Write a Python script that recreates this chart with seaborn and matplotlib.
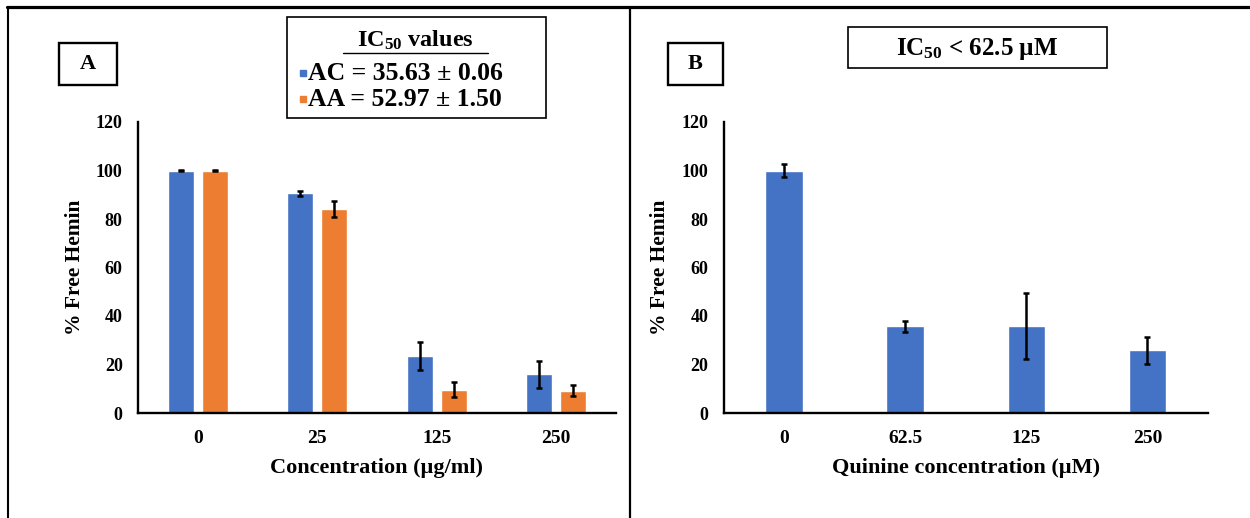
import numpy as np
import pandas as pd
import seaborn as sns
import matplotlib.pyplot as plt
from matplotlib.patches import Rectangle
from matplotlib.lines import Line2D

# ---- data ----
conc_a = ["0", "25", "125", "250"]
ac_vals = [100.0, 90.6, 23.4, 15.9]
ac_err = [0.3, 1.1, 5.8, 5.4]
aa_vals = [100.0, 84.1, 9.6, 9.2]
aa_err = [0.3, 3.2, 3.1, 2.2]
series_a = ["AC", "AA"]

conc_b = ["0", "62.5", "125", "250"]
quinine_vals = [100.0, 35.7, 35.8, 25.8]
quinine_err = [2.6, 2.2, 13.7, 5.7]

yticks = [0, 20, 40, 60, 80, 100, 120]
xlabel_a = "Concentration (µg/ml)"
xlabel_b = "Quinine concentration (µM)"
ylabel = "% Free Hemin"
legend_title = "IC$_{50}$ values"
legend_lines = ["AC = 35.63 ± 0.06", "AA = 52.97 ± 1.50"]
box_b_text = "IC$_{50}$ < 62.5 µM"

BLUE = "#4472C4"
ORANGE = "#ED7D31"

sns.set_theme(style="white")
plt.rcParams["font.family"] = ["Liberation Serif", "DejaVu Serif"]
plt.rcParams["font.weight"] = "bold"
plt.rcParams["text.color"] = "black"
plt.rcParams["axes.labelcolor"] = "black"
plt.rcParams["xtick.color"] = "black"
plt.rcParams["ytick.color"] = "black"
plt.rcParams["mathtext.fontset"] = "custom"
plt.rcParams["mathtext.rm"] = "Liberation Serif:bold"
plt.rcParams["mathtext.it"] = "Liberation Serif:bold"
plt.rcParams["mathtext.bf"] = "Liberation Serif:bold"

W, H = 1250, 518
fig = plt.figure(figsize=(12.5, 5.18), dpi=100)

def fx(px):
    return px / W

def fy(py):
    return (H - py) / H

axA = fig.add_axes([fx(138), fy(413), fx(616) - fx(138), fy(122) - fy(413)])
axB = fig.add_axes([fx(723.5), fy(413), fx(1208) - fx(723.5), fy(122) - fy(413)])

df_a = pd.DataFrame({
    "conc": conc_a * 2,
    "value": ac_vals + aa_vals,
    "series": [series_a[0]] * len(conc_a) + [series_a[1]] * len(conc_a),
})
sns.barplot(data=df_a, x="conc", y="value", hue="series", order=conc_a,
            hue_order=series_a, palette=[BLUE, ORANGE], width=0.568, gap=0.236,
            errorbar=None, legend=False, saturation=1, ax=axA)
for cont, errs in zip(axA.containers, [ac_err, aa_err]):
    xs = [p.get_x() + p.get_width() / 2 for p in cont.patches]
    hs = [p.get_height() for p in cont.patches]
    axA.errorbar(xs, hs, yerr=errs, fmt="none", ecolor="black",
                 elinewidth=1.8, capsize=2.5, capthick=1.8, zorder=5)

df_b = pd.DataFrame({"conc": conc_b, "value": quinine_vals})
sns.barplot(data=df_b, x="conc", y="value", order=conc_b, color=BLUE,
            width=0.31, errorbar=None, saturation=1, ax=axB)
cont = axB.containers[0]
xs = [p.get_x() + p.get_width() / 2 for p in cont.patches]
hs = [p.get_height() for p in cont.patches]
axB.errorbar(xs, hs, yerr=quinine_err, fmt="none", ecolor="black",
             elinewidth=1.8, capsize=2.5, capthick=1.8, zorder=5)

for ax, xl in [(axA, xlabel_a), (axB, xlabel_b)]:
    ax.set_ylim(0, 120)
    ax.set_xlim(-0.5, 3.5)
    ax.set_yticks(yticks)
    ax.set_yticklabels([str(t) for t in yticks], fontsize=13, fontweight="bold")
    ax.tick_params(axis="both", length=0, colors="black")
    ax.tick_params(axis="y", pad=11)
    ax.tick_params(axis="x", pad=12.5)
    for lab in ax.get_xticklabels():
        lab.set_fontsize(14)
        lab.set_fontweight("bold")
    ax.set_xlabel(xl, fontsize=16, fontweight="bold", labelpad=8, color="black")
    ax.set_ylabel(ylabel, fontsize=15.5, fontweight="bold", labelpad=8, color="black")
    sns.despine(ax=ax)
    for s in ["left", "bottom"]:
        ax.spines[s].set_linewidth(1.7)
        ax.spines[s].set_color("black")
    ax.grid(False)
    ax.set_facecolor("none")

# ---- outer frame ----
fig.add_artist(Line2D([fx(7), 1.0], [fy(6.5), fy(6.5)], color="black", lw=2.3))
fig.add_artist(Line2D([fx(8), fx(8)], [fy(6.5), 0.0], color="black", lw=1.5))
fig.add_artist(Line2D([fx(629.5), fx(629.5)], [fy(6.5), 0.0], color="black", lw=1.6))

# ---- panel label boxes ----
def box(x0, y0, x1, y1, lw):
    fig.add_artist(Rectangle((fx(x0), fy(y1)), fx(x1) - fx(x0), fy(y0) - fy(y1),
                             fill=False, edgecolor="black", lw=lw))

box(59, 43, 117, 85, 1.7)
fig.text(fx(88), fy(64), "A", ha="center", va="center", fontsize=16, fontweight="bold")
box(668, 43, 723, 85, 1.7)
fig.text(fx(695.5), fy(64), "B", ha="center", va="center", fontsize=16, fontweight="bold")

# ---- IC50 legend box (panel A) ----
box(287, 17, 546, 118, 1.2)
fig.text(fx(415), fy(47), legend_title, ha="center", va="baseline", fontsize=17.5, fontweight="bold")
fig.add_artist(Line2D([fx(343), fx(488)], [fy(53), fy(53)], color="black", lw=1.0))
for (txt, col, yb, ym) in [(legend_lines[0], BLUE, 80, 72.5), (legend_lines[1], ORANGE, 106.5, 99)]:
    fig.add_artist(Line2D([fx(303)], [fy(ym)], marker="s", markersize=5,
                          color=col, linestyle="none"))
    fig.text(fx(308), fy(yb), txt, ha="left", va="baseline", fontsize=18.5, fontweight="bold")

# ---- IC50 box (panel B) ----
box(848, 27, 1107, 68, 1.2)
fig.text(fx(977), fy(55.5), box_b_text, ha="center", va="baseline", fontsize=18, fontweight="bold")

fig.savefig("out.png", dpi=100, facecolor="white")
